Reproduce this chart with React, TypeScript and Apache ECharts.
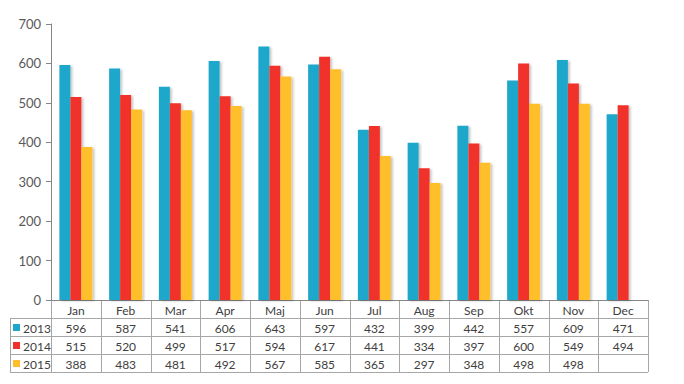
import React, { useEffect, useRef } from "react";
import * as echarts from "echarts";

const categories = ["Jan", "Feb", "Mar", "Apr", "Maj", "Jun", "Jul", "Aug", "Sep", "Okt", "Nov", "Dec"];
const seriesNames = ["2013", "2014", "2015"];
const values2013 = [596, 587, 541, 606, 643, 597, 432, 399, 442, 557, 609, 471];
const values2014 = [515, 520, 499, 517, 594, 617, 441, 334, 397, 600, 549, 494];
const values2015: (number | null)[] = [388, 483, 481, 492, 567, 585, 365, 297, 348, 498, 498, null];
const colors = ["#1FA7CB", "#F0302A", "#FFBF2B"];

const GRID = { left: 51, right: 36, top: 24, bottom: 84 };
const W = 684;
const H = 384;
const ROW_H = 18;
const TABLE_LEFT = 10;
const FONT = "Lato, 'Open Sans', sans-serif";
const LINE_COLOR = "#A6A6A6";
const TEXT_COLOR = "#404040";

export default function App() {
  const ref = useRef<HTMLDivElement>(null);
  useEffect(() => {
    document.body.style.margin = "0";
    if (!ref.current) return;
    const chart = echarts.init(ref.current, null, { renderer: "svg" });
    const allValues = [values2013, values2014, values2015];
    chart.setOption({
      animation: false,
      grid: { ...GRID, containLabel: false },
      xAxis: {
        type: "category",
        data: categories,
        axisLine: { show: true, lineStyle: { color: "#868686", width: 1 } },
        axisTick: { show: false },
        axisLabel: { show: false },
        splitLine: { show: false },
      },
      yAxis: {
        type: "value",
        min: 0,
        max: 700,
        interval: 100,
        axisLine: { show: true, lineStyle: { color: "#868686", width: 1 } },
        axisTick: { show: true, length: 5, lineStyle: { color: "#868686" } },
        axisLabel: { color: "#595959", fontSize: 13, fontFamily: FONT, margin: 10 },
        splitLine: { show: false },
      },
      series: seriesNames.map((name, i) => ({
        name,
        type: "bar",
        data: allValues[i],
        barWidth: 11,
        barGap: "0%",
        itemStyle: {
          color: colors[i],
          shadowColor: "rgba(0,0,0,0.22)",
          shadowBlur: 2,
          shadowOffsetX: 2,
          shadowOffsetY: 1,
        },
      })),
    });

    // Build data table under the axis
    const plotW = W - GRID.left - GRID.right;
    const band = plotW / categories.length;
    const axisY = H - GRID.bottom;
    const right = W - GRID.right;
    const elements: any[] = [];
    const line = (x1: number, y1: number, x2: number, y2: number) => ({
      type: "line",
      shape: { x1, y1, x2, y2 },
      style: { stroke: LINE_COLOR, lineWidth: 1 },
      silent: true,
    });
    const crisp = (v: number) => Math.round(v) + 0.5;
    // horizontal lines
    for (let r = 1; r <= 4; r++) {
      const y = crisp(axisY + r * ROW_H);
      elements.push(line(TABLE_LEFT, y, right, y));
    }
    // vertical lines
    elements.push(line(crisp(TABLE_LEFT), axisY + ROW_H, crisp(TABLE_LEFT), axisY + 4 * ROW_H));
    for (let c = 0; c <= categories.length; c++) {
      const x = crisp(GRID.left + c * band);
      elements.push(line(x, axisY, x, axisY + 4 * ROW_H));
    }
    // header labels
    categories.forEach((cat, c) => {
      const cx = chart.convertToPixel({ xAxisIndex: 0 }, c) as number;
      elements.push({
        type: "text",
        x: cx,
        y: axisY + ROW_H / 2 + 1,
        style: { text: cat, fill: TEXT_COLOR, font: `12px ${FONT}`, align: "center", verticalAlign: "middle" },
        silent: true,
      });
    });
    // rows
    seriesNames.forEach((name, i) => {
      const cy = axisY + (i + 1) * ROW_H + ROW_H / 2 + 1;
      elements.push({
        type: "rect",
        shape: { x: 13, y: Math.round(cy - 4), width: 7, height: 7 },
        style: { fill: colors[i] },
        silent: true,
      });
      elements.push({
        type: "text",
        x: 23,
        y: cy,
        style: { text: name, fill: TEXT_COLOR, font: `12px ${FONT}`, align: "left", verticalAlign: "middle" },
        silent: true,
      });
      allValues[i].forEach((v, c) => {
        if (v == null) return;
        const cx = chart.convertToPixel({ xAxisIndex: 0 }, c) as number;
        elements.push({
          type: "text",
          x: cx,
          y: cy,
          style: { text: String(v), fill: TEXT_COLOR, font: `12px ${FONT}`, align: "center", verticalAlign: "middle" },
          silent: true,
        });
      });
    });
    chart.setOption({ graphic: { elements } });
    return () => chart.dispose();
  }, []);
  return <div ref={ref} style={{ width: W, height: H }} />;
}
